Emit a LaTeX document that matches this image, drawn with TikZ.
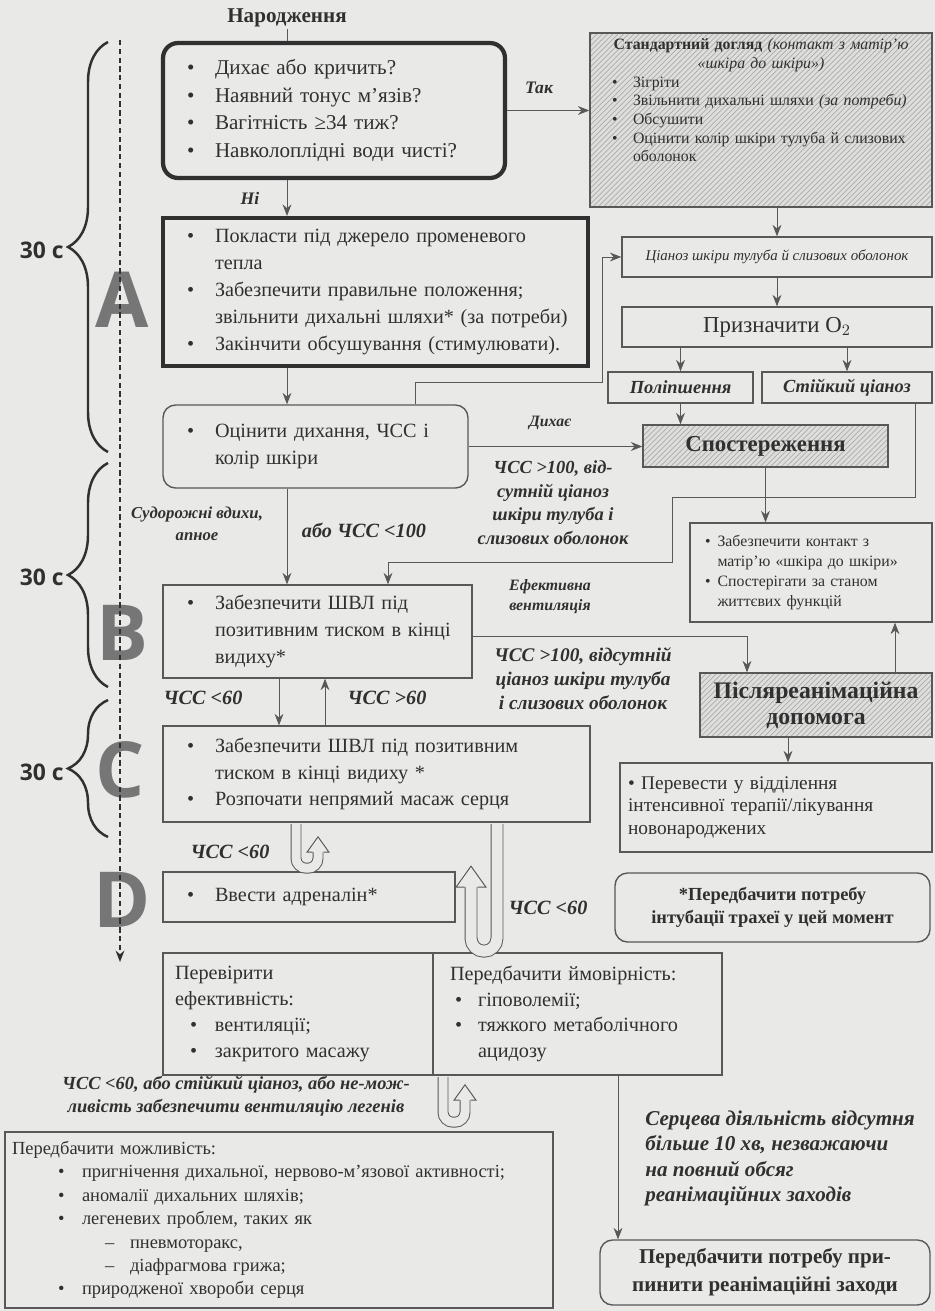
\documentclass[tikz,border=0pt]{standalone}
\usepackage{fontspec}
\setmainfont{Liberation Serif}
\newfontfamily\labelsans{Open Sans}
\usetikzlibrary{arrows.meta,patterns,decorations.pathreplacing}

\definecolor{paper}{RGB}{233,233,231}
\definecolor{ink}{RGB}{48,48,48}
\definecolor{linegray}{RGB}{88,88,88}
\definecolor{hatchbg}{RGB}{222,222,220}
\definecolor{hatchfg}{RGB}{172,172,172}
\definecolor{lettergray}{RGB}{118,118,118}

\newcommand{\itm}[1]{\makebox[#1][l]{\textbullet}}
\newcommand{\contline}[1]{\hspace*{#1}}

\tikzset{pics/uphead/.style n args={2}{code={
  \fill[paper] (-#2,0) -- (0,-1.4*#2) -- (#2,0) -- cycle;
  \draw[linegray, line width=0.55pt] (-#1,0) -- (-#2,0) -- (0,-1.4*#2) -- (#2,0) -- (#1,0);
}}}

\begin{document}
\begin{tikzpicture}[x=0.02cm, y=-0.02cm, >={Stealth[length=6.5pt,width=5pt]},
  every node/.append style={text=ink},
  box/.style={draw=linegray, line width=0.8pt, align=left, inner ysep=0pt},
  mainbox/.style={box, inner xsep=0.15cm, bodytext},
  heavy/.style={mainbox, draw=ink, line width=2.4pt},
  hatched/.style={preaction={fill=hatchbg}, pattern=north east lines, pattern color=hatchfg},
  lbl/.style={align=center, inner sep=0pt, font=\fontsize{10.5}{13.4}\selectfont\bfseries\itshape},
  bodytext/.style={font=\fontsize{11.5}{15.3}\selectfont},
  tube/.style={linegray, line width=0.55pt, double=paper},
  bigletter/.style={inner sep=0pt, text=lettergray, font=\labelsans\bfseries\fontsize{44}{44}\selectfont},
  seconds/.style={anchor=east, inner sep=0pt, font=\labelsans\bfseries\fontsize{13}{15}\selectfont},
  bracket/.style={ink, line width=1.4pt, decorate, decoration={brace, amplitude=0.8cm}}]

\useasboundingbox (0,0) rectangle (935,1311);
\fill[paper] (0,0) rectangle (935,1311);

\coordinate (colM) at (287,0);
\coordinate (colDn) at (279,0);
\coordinate (colUp) at (325,0);
\coordinate (jA) at (415,382);
\coordinate (jB) at (602,382);
\coordinate (jC) at (915,497);
\coordinate (jD) at (672,497);
\coordinate (jE) at (672,562);
\coordinate (jF) at (388,562);
\coordinate (jG) at (747,0);
\coordinate (jH) at (895,0);
\coordinate (jI) at (788,0);
\coordinate (jJ) at (618,0);
\coordinate (h1) at (296,0);
\coordinate (h2) at (497,0);
\coordinate (h3) at (443,0);
\coordinate (dashTop) at (120,40);
\coordinate (dashEnd) at (120,962);

\node (letA) at (122,300) [bigletter] {A};
\node (letB) at (122,633) [bigletter] {B};
\node (letC) at (120,770) [bigletter] {C};
\node (letD) at (122,900) [bigletter] {D};
\draw[ink, line width=0.7pt, dash pattern=on 3pt off 2pt, ->] (dashTop) -- (dashEnd);

\draw[bracket] (108,452) -- (108,42);
\draw[bracket] (108,687) -- (108,463);
\draw[bracket] (108,837) -- (108,700);
\node (secA) at (64,250) [seconds] {30 с};
\node (secB) at (64,577) [seconds] {30 с};
\node (secC) at (64,772) [seconds] {30 с};

\node (birth) at (287,18) [inner sep=1pt, font=\fontsize{12}{14}\selectfont\bfseries] {Народження};

\node (check) at (334,110.5) [heavy, rounded corners=0.3cm, minimum width=6.84cm, minimum height=2.7cm, text width=6.54cm, font=\fontsize{12}{15.6}\selectfont] {%
\leftskip=0.33cm
\itm{0.56cm}Дихає або кричить?\\
\itm{0.56cm}Наявний тонус м’язів?\\
\itm{0.56cm}Вагітність ≥34 тиж?\\
\itm{0.56cm}Навколоплідні води чисті?\par};

\node (std) at (761,120) [box, hatched, minimum width=6.84cm, minimum height=3.48cm, text width=5.96cm, inner xsep=0.44cm, font=\fontsize{9}{10.6}\selectfont] {%
\centering\textbf{Стандартний догляд} \textit{(контакт з матір’ю}\\
\textit{«шкіра до шкіри»)}\par
\raggedright
\itm{0.42cm}Зігріти\\
\itm{0.42cm}Звільнити дихальні шляхи \textit{(за потреби)}\\
\itm{0.42cm}Обсушити\\
\itm{0.42cm}Оцінити колір шкіри тулуба й слизових\\
\contline{0.42cm}оболонок\par
\rule{0pt}{0.75cm}};

\node (yes) at (539,88) [lbl, font=\fontsize{10}{12}\selectfont\bfseries\itshape] {Так};
\node (no) at (250,198) [lbl, font=\fontsize{10}{12}\selectfont\bfseries\itshape] {Ні};

\node (stepA) at (375.5,292) [heavy, minimum width=8.5cm, minimum height=2.96cm, text width=8.2cm] {%
\leftskip=0.33cm
\itm{0.56cm}Покласти під джерело променевого\\
\contline{0.56cm}тепла\\
\itm{0.56cm}Забезпечити правильне положення;\\
\contline{0.56cm}звільнити дихальні шляхи* (за потреби)\\
\itm{0.56cm}Закінчити обсушування (стимулювати).\par};

\node (cyan) at (777,257) [box, align=center, minimum width=6.2cm, minimum height=0.8cm, font=\fontsize{8.5}{10}\selectfont\itshape] {Ціаноз шкіри тулуба й слизових оболонок};
\node (o2) at (777,327) [box, align=center, minimum width=6.2cm, minimum height=0.8cm, font=\fontsize{13}{15}\selectfont] {Призначити O$_2$};
\node (impr) at (680.5,387.5) [box, align=center, minimum width=2.9cm, minimum height=0.62cm, font=\fontsize{10.5}{12}\selectfont\bfseries\itshape] {Поліпшення};
\node (pers) at (847,387.5) [box, align=center, minimum width=3.4cm, minimum height=0.62cm, font=\fontsize{10.5}{12}\selectfont\bfseries\itshape] {Стійкий ціаноз};
\node (obs) at (765.5,446) [box, hatched, align=center, minimum width=4.9cm, minimum height=0.84cm, font=\fontsize{13}{15}\selectfont\bfseries] {Спостереження};

\node (eval) at (315.5,446.5) [mainbox, rounded corners=0.25cm, minimum width=6.1cm, minimum height=1.66cm, text width=5.8cm] {%
\leftskip=0.33cm
\itm{0.56cm}Оцінити дихання, ЧСС і\\
\contline{0.56cm}колір шкіри\par};

\node (breath) at (550,423) [lbl, font=\fontsize{9}{11}\selectfont\bfseries\itshape] {Дихає};
\node (hrA) at (553,502.5) [lbl] {ЧСС >100, від-\\сутній ціаноз\\шкіри тулуба і\\слизових оболонок};
\node (gasp) at (197,524) [lbl, font=\fontsize{9.5}{12.5}\selectfont\bfseries\itshape] {Судорожні вдихи,\\апное};
\node (hrB) at (364,530) [lbl, font=\fontsize{11.5}{13}\selectfont\bfseries\itshape] {або ЧСС <100};

\node (stepB) at (317.5,631.5) [mainbox, minimum width=6.18cm, minimum height=1.86cm, text width=5.88cm] {%
\leftskip=0.33cm
\itm{0.56cm}Забезпечити ШВЛ під\\
\contline{0.56cm}позитивним тиском в кінці\\
\contline{0.56cm}видиху*\par};

\node (contact) at (811,572.5) [box, minimum width=4.84cm, minimum height=1.98cm, text width=4.24cm, inner xsep=0.3cm, font=\fontsize{9}{11.3}\selectfont] {%
\itm{0.25cm}Забезпечити контакт з\\
\contline{0.25cm}матір’ю «шкіра до шкіри»\\
\itm{0.25cm}Спостерігати за станом\\
\contline{0.25cm}життєвих функцій};

\node (vent) at (550,597) [lbl, font=\fontsize{9}{11.3}\selectfont\bfseries\itshape] {Ефективна\\вентиляція};
\node (hrC) at (583,679) [lbl, font=\fontsize{11}{13.6}\selectfont\bfseries\itshape] {ЧСС >100, відсутній\\ціаноз шкіри тулуба\\і слизових оболонок};

\node (post) at (816,705) [box, hatched, align=center, minimum width=4.64cm, minimum height=1.28cm, font=\fontsize{13.5}{14.7}\selectfont\bfseries] {Післяреанімаційна\\допомога};

\node (lowA) at (203,698) [lbl, font=\fontsize{11.5}{13}\selectfont\bfseries\itshape] {ЧСС <60};
\node (highA) at (387,698) [lbl, font=\fontsize{11.5}{13}\selectfont\bfseries\itshape] {ЧСС >60};

\node (stepC) at (376.5,774) [mainbox, minimum width=8.54cm, minimum height=1.92cm, text width=8.24cm] {%
\leftskip=0.33cm
\itm{0.56cm}Забезпечити ШВЛ під позитивним\\
\contline{0.56cm}тиском в кінці видиху *\\
\itm{0.56cm}Розпочати непрямий масаж серця\par};

\node (transfer) at (776,807.5) [box, minimum width=6.24cm, minimum height=1.78cm, text width=5.92cm, inner xsep=0.16cm, font=\fontsize{11}{13}\selectfont] {%
\textbullet\ Перевести у відділення\\
інтенсивної терапії/лікування\\
новонароджених};

\node (lowB) at (230,852) [lbl, font=\fontsize{11.5}{13}\selectfont\bfseries\itshape] {ЧСС <60};

\node (stepD) at (309,897) [mainbox, minimum width=5.84cm, minimum height=1.0cm, text width=5.54cm] {%
\leftskip=0.33cm
\itm{0.56cm}Ввести адреналін*\par};

\node (lowC) at (548,908) [lbl, font=\fontsize{11.5}{13}\selectfont\bfseries\itshape] {ЧСС <60};
\node (note) at (772.5,907.5) [box, rounded corners=0.25cm, align=center, minimum width=6.3cm, minimum height=1.38cm, font=\fontsize{10.5}{13}\selectfont\bfseries] {*Передбачити потребу\\інтубації трахеї у цей момент};

\node (verify) at (298,1014) [box, minimum width=5.4cm, minimum height=2.44cm, text width=4.92cm, inner xsep=0.24cm, font=\fontsize{11.5}{14.7}\selectfont] {%
Перевірити\\
ефективність:\\
\contline{0.3cm}\itm{0.5cm}вентиляції;\\
\contline{0.3cm}\itm{0.5cm}закритого масажу};

\node (diag) at (577.5,1014) [box, minimum width=5.78cm, minimum height=2.44cm, text width=5.1cm, inner xsep=0.34cm, font=\fontsize{11.5}{14.7}\selectfont] {%
Передбачити ймовірність:\\
\contline{0.1cm}\itm{0.46cm}гіповолемії;\\
\contline{0.1cm}\itm{0.46cm}тяжкого метаболічного\\
\contline{0.56cm}ацидозу};

\node (fail) at (236,1096.5) [lbl, font=\fontsize{10.5}{13}\selectfont\bfseries\itshape] {ЧСС <60, або стійкий ціаноз, або не-мож-\\ливість забезпечити вентиляцію легенів};

\node (causes) at (279,1220) [box, minimum width=10.96cm, minimum height=3.52cm, text width=10.68cm, inner xsep=0.14cm, font=\fontsize{10.5}{13.3}\selectfont] {%
Передбачити можливість:\\
\contline{0.92cm}\itm{0.48cm}пригнічення дихальної, нервово-м’язової активності;\\
\contline{0.92cm}\itm{0.48cm}аномалії дихальних шляхів;\\
\contline{0.92cm}\itm{0.48cm}легеневих проблем, таких як\\
\contline{1.86cm}\makebox[0.5cm][l]{–}пневмоторакс,\\
\contline{1.86cm}\makebox[0.5cm][l]{–}діафрагмова грижа;\\
\contline{0.92cm}\itm{0.48cm}природженої хвороби серця};

\node (arrest) at (645,1158.5) [lbl, anchor=west, align=left, font=\fontsize{12}{14.5}\selectfont\bfseries\itshape] {Серцева діяльність відсутня\\більше 10 хв, незважаючи\\на повний обсяг\\реанімаційних заходів};

\node (stop) at (765,1272.5) [box, rounded corners=0.25cm, align=center, minimum width=6.6cm, minimum height=1.3cm, font=\fontsize{12}{15.8}\selectfont\bfseries] {Передбачити потребу при-\\пинити реанімаційні заходи};

\draw[linegray] (birth.south) -- (check.north -| birth.south);
\draw[linegray, ->] (check.east) -- (check.east -| std.west);
\draw[linegray, ->] (check.south -| colM) -- (stepA.north -| colM);
\draw[linegray, ->] (std.south -| cyan.north) -- (cyan.north);
\draw[linegray, ->] (cyan.south) -- (o2.north);
\draw[linegray, ->] (o2.south -| impr.north) -- (impr.north);
\draw[linegray, ->] (o2.south -| pers.north) -- (pers.north);
\draw[linegray, ->] (impr.south) -- (impr.south |- obs.north);
\draw[linegray, ->] (stepA.south -| colM) -- (eval.north -| colM);
\draw[linegray, ->] (eval.north -| jA) -- (jA) -- (jB) |- (cyan.west);
\draw[linegray, ->] (eval.east) -- (eval.east -| obs.west);
\draw[linegray, ->] (eval.south -| colM) -- (stepB.north -| colM);
\draw[linegray, ->] (pers.south -| jC) -- (jC) -- (jD) -- (jE) -- (jF) -- (stepB.north -| jF);
\draw[linegray, ->] (obs.south) -- (obs.south |- contact.north);
\draw[linegray, ->] ([yshift=-0.1cm]stepB.east) -| (post.north -| jG);
\draw[linegray, ->] (post.north -| jH) -- (contact.south -| jH);
\draw[linegray, ->] (post.south -| jI) -- (transfer.north -| jI);
\draw[linegray, ->] (stepB.south -| colDn) -- (stepC.north -| colDn);
\draw[linegray, ->] (stepC.north -| colUp) -- (stepB.south -| colUp);
\draw[linegray, ->] (diag.south -| jJ) -- (stop.north -| jJ);

\draw[tube, double distance=0.18cm, rounded corners=0.2cm] ([yshift=-0.03cm]stepC.south -| h1) -- ++(0,44) -- ++(22,0) -- ++(0,-16) coordinate (h1end);
\pic at (h1end) {uphead={5.5}{11}};
\draw[tube, double distance=0.22cm, rounded corners=0.26cm] ([yshift=-0.03cm]stepC.south -| h2) -- ++(0,127) -- ++(-26,0) -- ++(0,-64) coordinate (h2end);
\pic at (h2end) {uphead={6.5}{15}};
\draw[tube, double distance=0.18cm, rounded corners=0.2cm] ([yshift=-0.03cm]diag.south -| h3) -- ++(0,45) -- ++(22,0) -- ++(0,-22) coordinate (h3end);
\pic at (h3end) {uphead={5.5}{11}};
\end{tikzpicture}
\end{document}
